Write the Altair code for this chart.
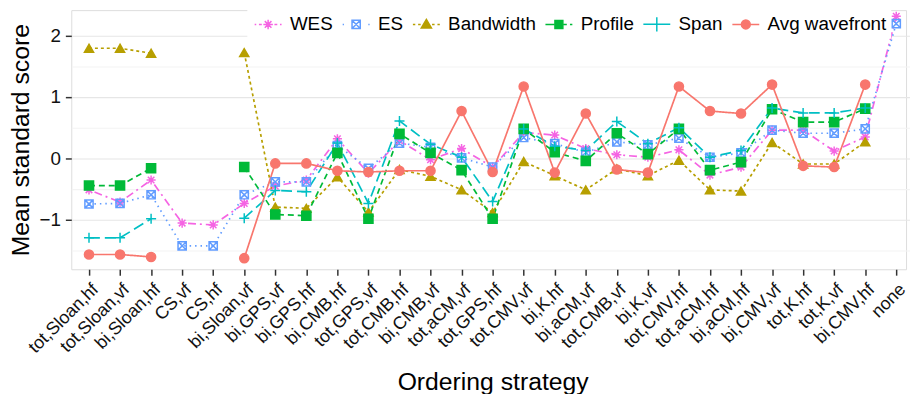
import altair as alt
import pandas as pd
import numpy as np

categories = ["tot,Sloan,hf", "tot,Sloan,vf", "bi,Sloan,hf", "CS,vf", "CS,hf", "bi,Sloan,vf",
              "bi,GPS,vf", "bi,GPS,hf", "bi,CMB,hf", "tot,GPS,vf", "tot,CMB,hf", "bi,CMB,vf",
              "tot,aCM,vf", "tot,GPS,hf", "tot,CMV,vf", "bi,K,hf", "bi,aCM,vf", "tot,CMB,vf",
              "bi,K,vf", "tot,CMV,hf", "tot,aCM,hf", "bi,aCM,hf", "bi,CMV,vf", "tot,K,hf",
              "tot,K,vf", "bi,CMV,hf", "none"]

nan = float("nan")
wes = [-0.51, -0.71, -0.35, -1.05, -1.08, -0.73, -0.45, -0.35, 0.32, -0.24, 0.29, -0.02,
       0.16, -0.14, 0.42, 0.38, 0.16, 0.06, 0.02, 0.14, -0.27, -0.14, 0.46, 0.46, 0.12, 0.35, 2.31]
es = [-0.74, -0.73, -0.59, -1.42, -1.42, -0.59, -0.38, -0.38, 0.21, -0.16, 0.25, 0.18,
      0.01, -0.14, 0.34, 0.24, 0.10, 0.27, 0.22, 0.33, 0.02, 0.09, 0.46, 0.41, 0.41, 0.48, 2.19]
bandwidth = [1.79, 1.79, 1.71, nan, nan, 1.72, -0.79, -0.81, -0.30, -0.87, -0.18, -0.29,
             -0.51, -0.88, -0.05, -0.28, -0.51, -0.17, -0.28, -0.03, -0.51, -0.53, 0.26, -0.09,
             -0.09, 0.27, nan]
profile = [-0.44, -0.44, -0.16, nan, nan, -0.14, -0.91, -0.93, 0.09, -0.98, 0.40, 0.09,
           -0.19, -0.98, 0.48, 0.10, -0.04, 0.41, 0.07, 0.48, -0.19, -0.06, 0.80, 0.59,
           0.59, 0.81, nan]
span = [-1.29, -1.29, -0.98, nan, nan, -0.97, -0.52, -0.54, 0.25, -0.73, 0.61, 0.23,
        0.02, -0.70, 0.48, 0.20, 0.13, 0.60, 0.24, 0.50, 0.02, 0.13, 0.82, 0.74, 0.74, 0.82, nan]
avg_wavefront = [-1.56, -1.56, -1.60, nan, nan, -1.62, -0.08, -0.08, -0.20, -0.22, -0.20, -0.20,
                 0.77, -0.22, 1.17, -0.23, 0.73, -0.18, -0.23, 1.17, 0.77, 0.73, 1.20, -0.12,
                 -0.14, 1.20, nan]

series_names = ["WES", "ES", "Bandwidth", "Profile", "Span", "Avg wavefront"]
series_values = [wes, es, bandwidth, profile, span, avg_wavefront]
colors = ["#F564E3", "#619CFF", "#B79F00", "#00BA38", "#00BFC4", "#F8766D"]
asterisk = "M-1,0L1,0M0,-1L0,1M-0.72,-0.72L0.72,0.72M-0.72,0.72L0.72,-0.72"
square_cross = "M-0.9,-0.9L0.9,-0.9L0.9,0.9L-0.9,0.9ZM-0.9,-0.9L0.9,0.9M-0.9,0.9L0.9,-0.9"
plus = "M-1.1,0L1.1,0M0,-1.1L0,1.1"
shapes = [asterisk, square_cross, "triangle-up", "square", plus, "circle"]
fills = ["transparent", "transparent", "#B79F00", "#00BA38", "transparent", "#F8766D"]
dashes = [[2, 4, 8, 4], [1.5, 4], [3, 3], [6, 4], [11, 5], [1, 0]]

# legend key glyphs (line sample + marker, in the unit box of a 32px key)
legend_keys = [
    "M-0.85,0L-0.75,0M-0.58,0L-0.4,0M0.4,0L0.58,0M0.75,0L0.85,0"
    "M-0.3,0L0.3,0M0,-0.3L0,0.3M-0.21,-0.21L0.21,0.21M-0.21,0.21L0.21,-0.21",
    "M-0.85,0L-0.77,0M0.77,0L0.85,0"
    "M-0.26,-0.26L0.26,-0.26L0.26,0.26L-0.26,0.26ZM-0.26,-0.26L0.26,0.26M-0.26,0.26L0.26,-0.26",
    "M-0.85,0L-0.7,0M-0.52,0L-0.36,0M0.36,0L0.52,0M0.7,0L0.85,0"
    "M0,-0.32L0.32,0.22L-0.32,0.22Z",
    "M-0.85,0L-0.3,0M0.3,0L0.5,0M0.7,0L0.85,0"
    "M-0.25,-0.25L0.25,-0.25L0.25,0.25L-0.25,0.25Z",
    "M-0.85,0L0.85,0M0,-0.45L0,0.45",
    "M-0.85,0L0.85,0M-0.28,0A0.28,0.28 0 1,0 0.28,0A0.28,0.28 0 1,0 -0.28,0Z",
]

rows = []
for name, vals in zip(series_names, series_values):
    seg = 0
    for i, (c, v) in enumerate(zip(categories, vals)):
        if np.isnan(v):
            seg += 1
            continue
        rows.append({"strategy": c, "idx": i, "series": name, "value": v, "seg": f"{name}-{seg}"})
df = pd.DataFrame(rows)

line_domain = sorted(series_names)
line_colors = [colors[series_names.index(n)] for n in line_domain]
line_dashes = [dashes[series_names.index(n)] for n in line_domain]
pt_domain = series_names[::-1]
pt_colors = colors[::-1]
pt_shapes = shapes[::-1]
pt_fills = fills[::-1]

FONT = "Liberation Sans"

x_enc = alt.X("strategy:N", sort=categories,
              scale=alt.Scale(type="point", padding=0.57, range=[0, 852]),
              axis=alt.Axis(title="Ordering strategy", labelAngle=315, labelAlign="right",
                            labelBaseline="top", labelFontSize=18, labelColor="#111",
                            labelFont=FONT, titleFont=FONT, titleFontSize=25,
                            titleFontWeight="normal", titleColor="#000", domain=False,
                            tickColor="#333", tickSize=6, tickWidth=1.5,
                            gridColor="#e6e6e6", gridWidth=1.1, labelPadding=5,
                            labelOverlap=False, titlePadding=13))
y_enc = alt.Y("value:Q",
              scale=alt.Scale(domain=[-1.8, 2.41], nice=False, zero=False),
              axis=alt.Axis(title="Mean standard score",
                            values=[-1.5, -1, -0.5, 0, 0.5, 1, 1.5, 2],
                            labelExpr="datum.value % 1 == 0 ? format(datum.value, 'd') : ''",
                            labelFontSize=19, labelColor="#111", labelFont=FONT,
                            titleFont=FONT, titleFontSize=25, titleFontWeight="normal",
                            titleColor="#000", domain=False,
                            tickColor={"condition": {"test": "datum.value % 1 != 0", "value": "transparent"}, "value": "#333"},
                            tickSize=6, tickWidth=1.5,
                            gridColor={"condition": {"test": "datum.value % 1 != 0", "value": "#f3f3f3"}, "value": "#e6e6e6"},
                            gridWidth=1.1, labelPadding=5, titlePadding=6))

legend = alt.Legend(
    title=None, orient="none", legendX=178, legendY=-7, direction="horizontal",
    columns=6, labelFontSize=19, labelFont=FONT, labelColor="#000", symbolSize=1024,
    symbolStrokeWidth=1.5, padding=4, columnPadding=6, labelOffset=5, fillColor="white",
)

lines = alt.Chart(df).mark_line(strokeWidth=1.7).encode(
    x=x_enc, y=y_enc,
    color=alt.Color("series:N", scale=alt.Scale(domain=line_domain, range=line_colors), legend=None),
    strokeDash=alt.StrokeDash("series:N", scale=alt.Scale(domain=line_domain, range=line_dashes), legend=None),
    detail="seg:N",
    order=alt.Order("idx:Q"),
)

points = alt.Chart(df).mark_point(filled=True, size=85, strokeWidth=1.5, opacity=1).encode(
    x=x_enc, y=y_enc,
    shape=alt.Shape("series:N", scale=alt.Scale(domain=pt_domain, range=pt_shapes), legend=None),
    stroke=alt.Stroke("series:N", scale=alt.Scale(domain=pt_domain, range=pt_colors), legend=None),
    fill=alt.Fill("series:N", scale=alt.Scale(domain=pt_domain, range=pt_fills), legend=None),
)

key_glyphs = alt.Chart(df).transform_filter("false").mark_point(filled=True, opacity=1).encode(
    shape=alt.Shape("series:N", scale=alt.Scale(domain=series_names, range=legend_keys), legend=legend),
    stroke=alt.Stroke("series:N", scale=alt.Scale(domain=series_names, range=colors), legend=legend),
    fill=alt.Fill("series:N", scale=alt.Scale(domain=series_names, range=fills), legend=legend),
)

chart = alt.layer(lines, points, key_glyphs).resolve_scale(
    shape="independent", stroke="independent", fill="independent",
    color="independent", strokeDash="independent",
).properties(
    width=844, height=262,
    autosize=alt.AutoSizeParams(type="none"),
    padding={"left": 64, "top": 0, "right": 4, "bottom": 124},
).configure_view(stroke="#8c8c8c", strokeWidth=1.5).configure(background="white")

chart.save("out.html", embed_options={"renderer": "svg", "actions": False})
